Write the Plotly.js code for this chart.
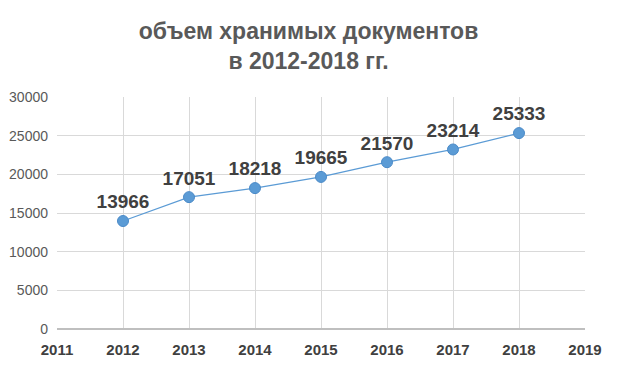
<!DOCTYPE html>
<html>
<head>
<meta charset="utf-8">
<script src="https://cdn.plot.ly/plotly-3.0.1.min.js"></script>
<style>html,body{margin:0;padding:0;background:#fff;}#chart{width:617px;height:368px;}</style>
</head>
<body>
<div id="chart"></div>
<script>
const years = [2012, 2013, 2014, 2015, 2016, 2017, 2018];
const volumes = [13966, 17051, 18218, 19665, 21570, 23214, 25333];
const xTicks = [2011, 2012, 2013, 2014, 2015, 2016, 2017, 2018, 2019];
const yTicks = [0, 5000, 10000, 15000, 20000, 25000, 30000];
const titleLines = ['объем хранимых документов', 'в 2012-2018 гг.'];

const narrow = '"Liberation Sans Narrow", "Arial Narrow", "Liberation Sans", Arial, sans-serif';

const trace = {
  x: years,
  y: volumes,
  type: 'scatter',
  mode: 'lines+markers+text',
  text: volumes.map(String),
  textposition: 'top center',
  textfont: {family: narrow, size: 19, color: '#404040', weight: 'bold'},
  line: {color: '#5B9BD5', width: 1.25},
  marker: {color: '#5B9BD5', size: 11, line: {color: '#4a8ac8', width: 1}},
  cliponaxis: false,
  hoverinfo: 'none'
};

const layout = {
  width: 617,
  height: 368,
  margin: {l: 57, r: 32, t: 97, b: 39},
  paper_bgcolor: '#ffffff',
  plot_bgcolor: '#ffffff',
  showlegend: false,
  title: {
    text: '<b>' + titleLines.join('<br>') + '</b>',
    x: 0.5, xanchor: 'center',
    yref: 'container',
    y: 0.895, yanchor: 'top',
    font: {family: narrow, size: 23, color: '#595959'}
  },
  xaxis: {
    range: [2011, 2019],
    tickvals: xTicks,
    ticktext: xTicks.map(v => '<b>' + v + '</b>'),
    showgrid: true,
    gridcolor: '#d9d9d9',
    gridwidth: 1,
    zeroline: false,
    showline: false,
    ticks: '',
    ticklen: 0,
    ticklabelstandoff: 10,
    tickfont: {family: narrow, size: 15, color: '#404040'},
    fixedrange: true
  },
  yaxis: {
    range: [0, 30000],
    tickvals: yTicks,
    ticktext: yTicks.map(String),
    showgrid: true,
    gridcolor: '#d9d9d9',
    gridwidth: 1,
    zeroline: true,
    zerolinecolor: '#bfbfbf',
    zerolinewidth: 1.5,
    showline: false,
    ticks: '',
    ticklabelstandoff: 8,
    tickfont: {family: narrow, size: 14, color: '#595959'},
    fixedrange: true
  }
};

Plotly.newPlot('chart', [trace], layout, {staticPlot: true, displayModeBar: false});
</script>
</body>
</html>
